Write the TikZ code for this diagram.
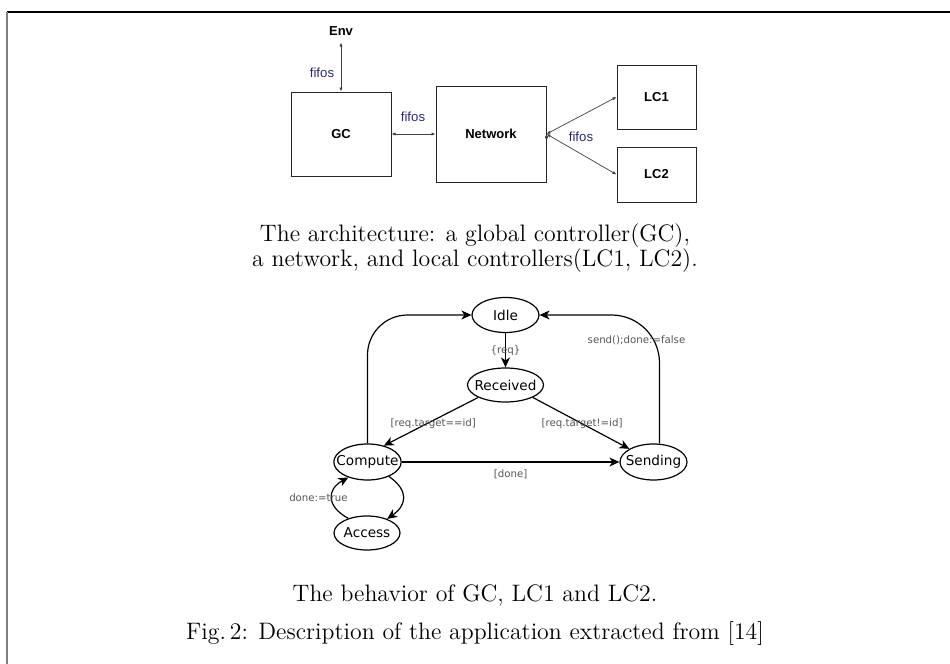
\documentclass[tikz,border=0pt]{standalone}
\usepackage{fontspec}
\usetikzlibrary{arrows.meta,shapes.geometric}
\newfontfamily\archfont{Liberation Sans}
\newfontfamily\statefont{DejaVu Sans}
\definecolor{fifoblue}{RGB}{40,40,120}
\definecolor{guardgray}{RGB}{85,85,85}

\tikzset{
	block/.style={draw=black!85, line width=0.5pt, inner sep=0pt, font=\archfont\bfseries\fontsize{6.5}{8}\selectfont},
	fifo/.style={text=fifoblue, font=\archfont\fontsize{6.6}{8}\selectfont},
	chan/.style={{Latex[length=2pt,width=1.6pt]}-{Latex[length=2pt,width=1.6pt]}, line width=0.35pt, draw=black!75},
	state/.style={ellipse, draw, line width=0.6pt, inner xsep=-3.6pt, inner ysep=0pt, font=\statefont\fontsize{6.8}{8}\selectfont},
	guard/.style={text=guardgray, inner sep=1pt, font=\statefont\fontsize{5.1}{6}\selectfont},
	trans/.style={-{Stealth[length=5pt,width=4.5pt,inset=1.5pt]}, line width=0.6pt},
	caption/.style={font=\fontsize{11.9}{11.7}\selectfont, align=center}
}

\begin{document}
\begin{tikzpicture}[x=0.5pt, y=-0.5pt]
	\useasboundingbox (0,0) rectangle (950,664);
	
	% frame
	\draw[line width=0.8pt] (7,12) -- (950,12);
	\draw[gray, line width=1pt] (7,12) -- (7,664);
	
	% architecture
	\node[font=\archfont\bfseries\fontsize{6.5}{8}\selectfont] (env) at (341,31) {Env};
	\node[block, minimum width=50pt, minimum height=42pt] (gc) at (341,134) {GC};
	\node[block, minimum width=55pt, minimum height=48pt] (net) at (491,134) {Network};
	\node[block, minimum width=39.5pt, minimum height=32pt] (lc1) at (656.5,97) {LC1};
	\node[block, minimum width=39.5pt, minimum height=27.5pt] (lc2) at (656.5,174.5) {LC2};
	
	\node[fifo] (fifoenv) at (322,73) {fifos};
	\node[fifo] (fifogc) at (413,117) {fifos};
	\node[fifo] (fifolc) at (581,137) {fifos};
	
	\path[chan] (env) edge (gc);
	\path[chan] (gc) edge (net);
	\path[chan] (net.east) edge (lc1.west);
	\path[chan] (net.east) edge (lc2.west);
	
	\node[caption] (archcap) at (475,248) {The architecture: a global controller(GC),\\a network, and local controllers(LC1, LC2).};
	
	% behavior
	\node[state, minimum width=33.5pt, minimum height=17.5pt] (idle) at (505.5,315) {Idle};
	\node[state, minimum width=38pt, minimum height=17pt] (received) at (505.5,385) {Received};
	\node[state, minimum width=33.5pt, minimum height=18pt] (compute) at (367.5,462) {Compute};
	\node[state, minimum width=33.5pt, minimum height=18pt] (sending) at (653.5,462) {Sending};
	\node[state, minimum width=33pt, minimum height=17pt] (access) at (367,533) {Access};
	
	\path[trans] (idle) edge node[guard]{\{req\}} (received);
	\path[trans] (received.south west) edge node[guard, pos=0.54, xshift=3pt]{[req.target==id]} (compute.45);
	\path[trans] (received.south east) edge node[guard, pos=0.51]{[req.target!=id]} (sending.north west);
	\path[trans] (compute) edge node[guard, below=2.5pt]{[done]} (sending);
	\draw[trans, rounded corners=20pt] (compute.north) |- (idle.west);
	\draw[trans, rounded corners=24pt] ([xshift=3pt]sending.north) |- node[guard, pos=0.4, xshift=-11.5pt]{send();done:=false} (idle.east);
	\draw[trans] (compute.-34) .. controls +(20,14) and +(20,-14) .. (access.35);
	\draw[trans] (access.142) .. controls +(-22,-12) and +(-22,12) .. (compute.219) node[guard, pos=0.5, xshift=-6.7pt]{done:=true};
	
	\node[caption, anchor=base] (behcap) at (475,601) {The behavior of GC, LC1 and LC2.};
	\node[caption, anchor=base] (figcap) at (475,639) {Fig.\,2: Description of the application extracted from [14]};
	
\end{tikzpicture}
\end{document}
